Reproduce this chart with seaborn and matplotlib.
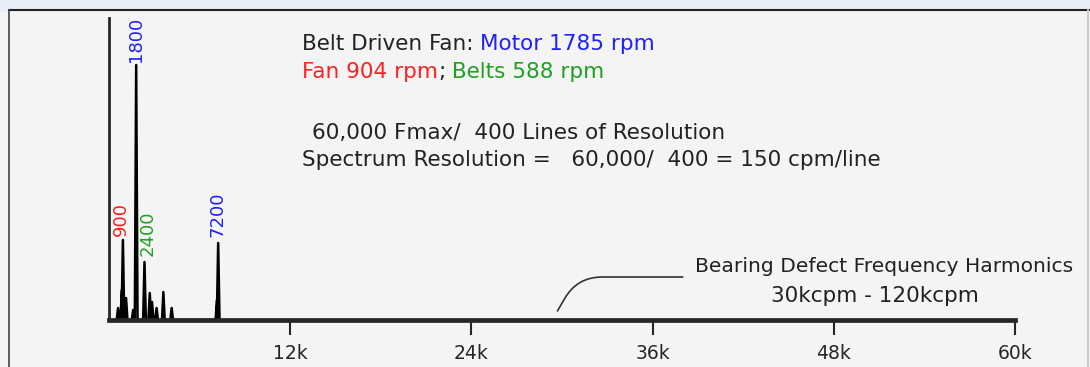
import numpy as np
import pandas as pd
import matplotlib.pyplot as plt
import seaborn as sns
from matplotlib.patches import Rectangle
from matplotlib.lines import Line2D

# spectrum peaks (cpm) and amplitudes (arbitrary units)
peak_freqs = [600, 850, 920, 1130, 1600, 1800, 2350, 2700, 2850, 3150, 3600, 4150, 7150, 7230]
peak_amps = [12, 30, 80, 22, 10, 255, 58, 27, 18, 12, 28, 12, 20, 77]
tick_vals = [12000, 24000, 36000, 48000, 60000]
tick_labels = ["12k", "24k", "36k", "48k", "60k"]
peak_labels = ["900", "1800", "2400", "7200"]
peak_label_freqs = [800, 1800, 2550, 7200]
peak_label_y = [84, 258, 64, 83]
peak_label_colors = ["#ff2020", "#2020ff", "#20a020", "#2020ff"]

sns.set_style("white")
plt.rcParams["font.family"] = ["DejaVu Sans"]

# spike shape for every peak
half_w = 90
xs, ys = [], []
for f, a in zip(peak_freqs, peak_amps):
    xs += [f - half_w, f, f + half_w]
    ys += [0, a, 0]
spec = pd.DataFrame({"freq": xs, "amp": ys})

fig = plt.figure(figsize=(10.9, 3.67), dpi=100)
fig.patch.set_facecolor("#f4f4f4")
ax = fig.add_axes([109 / 1090, 47 / 367, 906 / 1090, 302 / 367])
ax.set_facecolor("#f4f4f4")

sns.lineplot(data=spec, x="freq", y="amp", sort=False, estimator=None,
             color="black", lw=1.8, ax=ax)

ax.set_xlim(0, 60000)
ax.set_ylim(0, 302)
ax.set_xticks(tick_vals)
ax.set_xticklabels(tick_labels, fontsize=13.5)
ax.set_yticks([])
ax.set_xlabel("")
ax.set_ylabel("")
for s in ["top", "right"]:
    ax.spines[s].set_visible(False)
ax.spines["bottom"].set_linewidth(3.4)
ax.spines["left"].set_linewidth(2)
ax.tick_params(axis="x", direction="out", length=11, width=1.5, pad=6, bottom=True)

# peak labels
for lab, f, y, c in zip(peak_labels, peak_label_freqs, peak_label_y, peak_label_colors):
    ax.text(f, y, lab, rotation=90, color=c, fontsize=13, ha="center", va="bottom")

fs = 15.5
# header text
t1 = fig.text(302 / 1090, 1 - 44 / 367, "Belt Driven Fan: ", fontsize=fs, va="center", color="#222222")
t2 = ax.annotate("Motor 1785 rpm", xy=(1, 0), xycoords=t1, va="bottom", fontsize=fs, color="#2020ff")
t3 = fig.text(302 / 1090, 1 - 72 / 367, "Fan 904 rpm", fontsize=fs, va="center", color="#ff2020")
t4 = ax.annotate(";", xy=(1, 0), xycoords=t3, va="bottom", fontsize=fs, color="#222222")
ax.annotate(" Belts 588 rpm", xy=(1, 0), xycoords=t4, va="bottom", fontsize=fs, color="#20a020")

fig.text(312 / 1090, 1 - 133 / 367, "60,000 Fmax/  400 Lines of Resolution", fontsize=fs,
         va="center", color="#222222")
fig.text(302 / 1090, 1 - 160 / 367, "Spectrum Resolution =   60,000/  400 = 150 cpm/line",
         fontsize=fs, va="center", color="#222222")

# bearing defect note
fig.text(695 / 1090, 1 - 266 / 367, "Bearing Defect Frequency Harmonics", fontsize=14.6,
         va="center", color="#222222")
fig.text(875 / 1090, 1 - 296 / 367, "30kcpm - 120kcpm", fontsize=fs, va="center", ha="center",
         color="#222222")
ax.annotate("", xy=(29700, 9), xytext=(38000, 43),
            arrowprops=dict(arrowstyle="-", color="#333333", lw=1.2,
                            connectionstyle="angle,angleA=0,angleB=60,rad=25",
                            shrinkA=0, shrinkB=0))

# page frame
fig.add_artist(Rectangle((0, 1 - 10 / 367), 1, 10 / 367, transform=fig.transFigure,
                         color="#e8eef8", zorder=0))
fig.add_artist(Line2D([9 / 1090, 1], [1 - 10 / 367] * 2, transform=fig.transFigure, color="#222222", lw=1.5))
fig.add_artist(Line2D([9 / 1090] * 2, [0, 1 - 10 / 367], transform=fig.transFigure, color="#444444", lw=1.2))
fig.add_artist(Line2D([1088 / 1090] * 2, [0, 1 - 10 / 367], transform=fig.transFigure, color="#cccccc", lw=1.5))

fig.savefig("out.png", dpi=100, facecolor=fig.get_facecolor())
